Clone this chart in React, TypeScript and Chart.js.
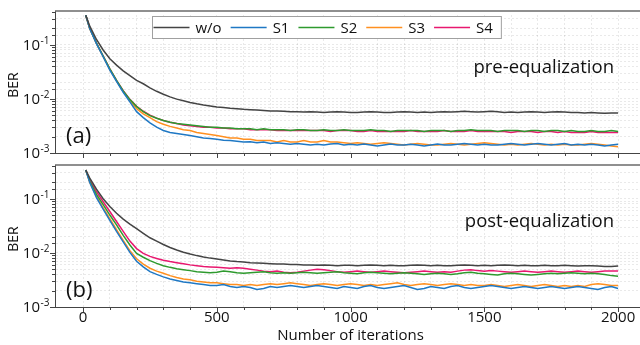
import React, { useEffect, useRef } from 'react';
import { Chart, registerables } from 'chart.js';

Chart.register(...registerables);

const FONT = '"Open Sans", "DejaVu Sans", sans-serif';

const SERIES_NAMES = ['w/o', 'S1', 'S2', 'S3', 'S4'];
const SERIES_COLORS = ['#444444', '#1f78c4', '#2e9a2e', '#ff9020', '#e8186f'];

const X_LABEL_TICKS = [0, 500, 1000, 1500, 2000];
const Y_LABEL_EXPONENTS = [-3, -2, -1];

const ITER = [
  10, 25, 50, 75, 100, 125, 150, 175, 200, 225,
  250, 275, 300, 325, 350, 375, 400, 425, 450, 475,
  500, 525, 550, 575, 600, 625, 650, 675, 700, 725,
  750, 775, 800, 825, 850, 875, 900, 925, 950, 975,
  1000, 1025, 1050, 1075, 1100, 1125, 1150, 1175, 1200, 1225,
  1250, 1275, 1300, 1325, 1350, 1375, 1400, 1425, 1450, 1475,
  1500, 1525, 1550, 1575, 1600, 1625, 1650, 1675, 1700, 1725,
  1750, 1775, 1800, 1825, 1850, 1875, 1900, 1925, 1950, 1975,
  2000,
];

// ---------- (a) pre-equalization ----------
const WO_PRE = [
  0.35, 0.22, 0.125, 0.08, 0.055, 0.042, 0.033, 0.027, 0.022, 0.019,
  0.016, 0.0138, 0.0122, 0.0109, 0.0099, 0.0092, 0.0086, 0.0081, 0.0077, 0.0074,
  0.0071, 0.0069, 0.0067, 0.0066, 0.0064, 0.0063, 0.0062, 0.0061, 0.006, 0.006,
  0.0059, 0.0058, 0.0058, 0.0057, 0.0058, 0.0057, 0.0056, 0.0057, 0.0058, 0.0057,
  0.0056, 0.0056, 0.0057, 0.0058, 0.0057, 0.0056, 0.0056, 0.0057, 0.0058, 0.0057,
  0.0056, 0.0057, 0.0056, 0.0057, 0.0058, 0.0057, 0.0058, 0.0059, 0.0058, 0.0057,
  0.0058, 0.0059, 0.0058, 0.0056, 0.0057, 0.0056, 0.0057, 0.0058, 0.0057, 0.0056,
  0.0057, 0.0058, 0.0057, 0.0056, 0.0056, 0.0055, 0.0056, 0.0055, 0.0054, 0.0055,
  0.0055,
];
const S1_PRE = [
  0.35, 0.2, 0.105, 0.06, 0.034, 0.021, 0.0132, 0.0088, 0.0058, 0.0045,
  0.0036, 0.003, 0.0026, 0.0024, 0.0023, 0.0022, 0.0021, 0.002, 0.0019, 0.00185,
  0.0018, 0.00172, 0.0017, 0.00165, 0.0016, 0.00162, 0.00155, 0.0016, 0.0015, 0.00155,
  0.0015, 0.00145, 0.0015, 0.00145, 0.0014, 0.00145, 0.0014, 0.00146, 0.0015, 0.0014,
  0.00145, 0.0014, 0.00146, 0.0014, 0.00135, 0.0014, 0.00146, 0.0014, 0.0014, 0.00145,
  0.0014, 0.00135, 0.0014, 0.00146, 0.0014, 0.0014, 0.00145, 0.0015, 0.00145, 0.0014,
  0.00145, 0.0014, 0.0014, 0.00145, 0.0015, 0.00145, 0.0014, 0.00145, 0.0015, 0.00145,
  0.0014, 0.00145, 0.0015, 0.0014, 0.00145, 0.0014, 0.00145, 0.0014, 0.00135, 0.0014,
  0.00145,
];
const S2_PRE = [
  0.35, 0.2, 0.107, 0.062, 0.036, 0.022, 0.014, 0.0097, 0.0072, 0.0058,
  0.0049, 0.0044, 0.004, 0.0037, 0.0035, 0.0034, 0.0033, 0.0032, 0.0031, 0.003,
  0.003, 0.0029, 0.0029, 0.0028, 0.0028, 0.0028, 0.0027, 0.0028, 0.0027, 0.0027,
  0.0027, 0.0026, 0.0027, 0.0027, 0.0026, 0.0026, 0.0027, 0.0026, 0.0026, 0.0027,
  0.0026, 0.0026, 0.0026, 0.0027, 0.0026, 0.0026, 0.0025, 0.0026, 0.0026, 0.0026,
  0.0026, 0.0025, 0.0026, 0.0026, 0.0026, 0.0025, 0.0026, 0.0026, 0.0027, 0.0026,
  0.0026, 0.0026, 0.0025, 0.0026, 0.0026, 0.0026, 0.0025, 0.0026, 0.0026, 0.0025,
  0.0026, 0.0026, 0.0025, 0.0026, 0.0025, 0.0025, 0.0026, 0.0025, 0.0025, 0.0026,
  0.0025,
];
const S3_PRE = [
  0.35, 0.2, 0.106, 0.061, 0.035, 0.0215, 0.0136, 0.0093, 0.0066, 0.0053,
  0.0045, 0.0038, 0.0034, 0.0031, 0.0029, 0.0027, 0.0026, 0.0024, 0.0023, 0.0022,
  0.0021, 0.002, 0.0019, 0.0019, 0.0018, 0.0018, 0.0017, 0.0017, 0.0017, 0.0016,
  0.0017, 0.0016, 0.0016, 0.0017, 0.0016, 0.0016, 0.0017, 0.0016, 0.0016, 0.00155,
  0.0015, 0.00155, 0.0015, 0.00145, 0.0015, 0.00155, 0.0015, 0.00145, 0.0014, 0.00145,
  0.0015, 0.00145, 0.0014, 0.0014, 0.00145, 0.0015, 0.00145, 0.0014, 0.00145, 0.0015,
  0.00155, 0.0015, 0.00145, 0.0014, 0.00145, 0.0014, 0.00145, 0.0015, 0.00145, 0.0014,
  0.00145, 0.0014, 0.00145, 0.0014, 0.0014, 0.00145, 0.0015, 0.00145, 0.0014, 0.00135,
  0.0013,
];
const S4_PRE = [
  0.35, 0.2, 0.107, 0.062, 0.036, 0.022, 0.0142, 0.0098, 0.0073, 0.0059,
  0.005, 0.0044, 0.004, 0.0037, 0.0035, 0.0033, 0.0032, 0.0031, 0.003, 0.003,
  0.0029, 0.0029, 0.0028, 0.0028, 0.0028, 0.0027, 0.0027, 0.0027, 0.0027, 0.0026,
  0.0026, 0.0026, 0.0026, 0.0026, 0.0026, 0.0026, 0.0026, 0.0025, 0.0026, 0.0026,
  0.0026, 0.0025, 0.0025, 0.0026, 0.0025, 0.0025, 0.0025, 0.0025, 0.0025, 0.0026,
  0.0025, 0.0025, 0.0025, 0.0025, 0.0026, 0.0025, 0.0025, 0.0025, 0.0026, 0.0025,
  0.0025, 0.0025, 0.0025, 0.0025, 0.0024, 0.0025, 0.0025, 0.0025, 0.0024, 0.0025,
  0.0025, 0.0024, 0.0025, 0.0024, 0.0024, 0.0024, 0.0025, 0.0024, 0.0024, 0.0024,
  0.0024,
];

// ---------- (b) post-equalization ----------
const WO_POST = [
  0.34, 0.24, 0.15, 0.1, 0.072, 0.054, 0.042, 0.034, 0.028, 0.023,
  0.019, 0.0165, 0.0143, 0.0126, 0.0113, 0.0103, 0.0095, 0.0089, 0.0084, 0.008,
  0.0077, 0.0074, 0.0071, 0.0069, 0.0068, 0.0066, 0.0065, 0.0064, 0.0063, 0.0062,
  0.0062, 0.0061, 0.0061, 0.006, 0.006, 0.0059, 0.006, 0.0059, 0.0058, 0.0059,
  0.0059, 0.0058, 0.0059, 0.006, 0.0059, 0.0058, 0.0059, 0.0058, 0.0058, 0.0059,
  0.006, 0.0059, 0.0058, 0.0059, 0.0058, 0.0058, 0.0059, 0.006, 0.0059, 0.0058,
  0.0059, 0.0058, 0.0059, 0.006, 0.0059, 0.0058, 0.0059, 0.0058, 0.0058, 0.0059,
  0.0058, 0.0058, 0.0059, 0.0058, 0.0057, 0.0058, 0.0058, 0.0057, 0.0056, 0.0056,
  0.0057,
];
const S1_POST = [
  0.34, 0.2, 0.105, 0.064, 0.04, 0.025, 0.016, 0.0102, 0.007, 0.0055,
  0.0045, 0.004, 0.0036, 0.0033, 0.0031, 0.0029, 0.0028, 0.0027, 0.0026, 0.0025,
  0.0025, 0.0026, 0.0024, 0.0023, 0.0024, 0.0023, 0.0021, 0.0022, 0.0024, 0.0023,
  0.0024, 0.0025, 0.0024, 0.0023, 0.0024, 0.0025, 0.0024, 0.0023, 0.0022, 0.0024,
  0.0023, 0.0022, 0.0024, 0.0025, 0.0023, 0.0022, 0.0023, 0.0024, 0.0025, 0.0023,
  0.0021, 0.0022, 0.0024, 0.0023, 0.0022, 0.0024, 0.0025, 0.0023, 0.0022, 0.0023,
  0.0024, 0.0025, 0.0024, 0.0023, 0.0022, 0.0023, 0.0024, 0.0023, 0.0022, 0.0023,
  0.0024, 0.0023, 0.0022, 0.0023, 0.0024, 0.0023, 0.0022, 0.0021, 0.0023, 0.0024,
  0.0022,
];
const S2_POST = [
  0.34, 0.21, 0.12, 0.078, 0.05, 0.033, 0.021, 0.014, 0.0098, 0.0083,
  0.0072, 0.0064, 0.0058, 0.0054, 0.0051, 0.0049, 0.0047, 0.0045, 0.0044, 0.0043,
  0.0044, 0.0046, 0.0045, 0.0043, 0.0042, 0.0043, 0.0044, 0.0045, 0.0043, 0.0042,
  0.0043, 0.0042, 0.0043, 0.0044, 0.0043, 0.0042, 0.0043, 0.0044, 0.0045, 0.0043,
  0.0042, 0.0041, 0.0043, 0.0044, 0.0043, 0.0042, 0.0041, 0.0042, 0.0043, 0.0042,
  0.0041, 0.004, 0.0041, 0.0042, 0.0041, 0.004, 0.0041, 0.0043, 0.0044, 0.0042,
  0.0041, 0.004, 0.0039, 0.0041, 0.0042, 0.0041, 0.004, 0.0039, 0.004, 0.0041,
  0.0042, 0.0041, 0.0042, 0.0043, 0.0042, 0.0041, 0.0042, 0.0041, 0.004, 0.0038,
  0.0037,
];
const S3_POST = [
  0.34, 0.2, 0.11, 0.068, 0.043, 0.027, 0.017, 0.011, 0.0078, 0.0062,
  0.0052, 0.0046, 0.0042, 0.0038, 0.0035, 0.0033, 0.0032, 0.003, 0.0029, 0.0028,
  0.0028, 0.0027, 0.0026, 0.0026, 0.0025, 0.0026, 0.0025, 0.0026, 0.0027, 0.0026,
  0.0027, 0.0028, 0.0027, 0.0026, 0.0025, 0.0026, 0.0027, 0.0026, 0.0025, 0.0026,
  0.0027, 0.0026, 0.0025, 0.0026, 0.0025, 0.0026, 0.0027, 0.0028, 0.0026, 0.0025,
  0.0026, 0.0027, 0.0026, 0.0025, 0.0026, 0.0027, 0.0026, 0.0025, 0.0026, 0.0025,
  0.0025, 0.0026, 0.0025, 0.0024, 0.0025, 0.0026, 0.0025, 0.0024, 0.0025, 0.0026,
  0.0025, 0.0024, 0.0025, 0.0024, 0.0025, 0.0024, 0.0026, 0.0027, 0.0026, 0.0025,
  0.0025,
];
const S4_POST = [
  0.34, 0.22, 0.135, 0.088, 0.058, 0.038, 0.025, 0.0165, 0.012, 0.0098,
  0.0086, 0.0079, 0.0073, 0.0069, 0.0066, 0.0063, 0.006, 0.0058, 0.0056, 0.0055,
  0.0054, 0.0053, 0.0052, 0.0053, 0.0052, 0.005, 0.0048, 0.0046, 0.0045, 0.0046,
  0.0044, 0.0043, 0.0044, 0.0046, 0.0048, 0.005, 0.0049, 0.0047, 0.0045, 0.0044,
  0.0045, 0.0046, 0.0045, 0.0044, 0.0045, 0.0046, 0.0045, 0.0044, 0.0043, 0.0044,
  0.0045, 0.0046, 0.0045, 0.0044, 0.0045, 0.0044, 0.0046, 0.0048, 0.0049, 0.0047,
  0.0046, 0.0047, 0.0046, 0.0045, 0.0044, 0.0045, 0.0046, 0.0045, 0.0044, 0.0045,
  0.0046, 0.0045, 0.0044, 0.0045, 0.0046, 0.0045, 0.0044, 0.0045, 0.0046, 0.0046,
  0.0046,
];

const PRE_SERIES = [WO_PRE, S1_PRE, S2_PRE, S3_PRE, S4_PRE];
const POST_SERIES = [WO_POST, S1_POST, S2_POST, S3_POST, S4_POST];

const X_MIN = -105;
const X_MAX = 2082;
const Y_MIN = 0.001;
const Y_MAX = 0.42;

const decorPlugin = {
  id: 'panelDecor',
  afterDraw(chart: any, _args: any, opts: any) {
    const ctx: CanvasRenderingContext2D = chart.ctx;
    const { left, top, bottom } = chart.chartArea;
    const xs = chart.scales.x;
    const ys = chart.scales.y;
    ctx.save();

    // top frame line
    ctx.fillStyle = '#fff';
    ctx.fillRect(left + 1, top - 1, chart.width - left, 4);
    ctx.strokeStyle = '#6a6a6a';
    ctx.lineWidth = 1.5;
    ctx.beginPath();
    ctx.moveTo(left, top);
    ctx.lineTo(chart.width, top);
    ctx.stroke();

    // x tick marks
    ctx.strokeStyle = '#444';
    ctx.lineWidth = 1;
    ctx.beginPath();
    xs.ticks.forEach((t: any) => {
      const px = Math.round(xs.getPixelForValue(t.value)) + 0.5;
      const len = t.value % 500 === 0 ? 5 : 3;
      ctx.moveTo(px, bottom);
      ctx.lineTo(px, bottom + len);
    });
    // y tick marks
    ys.ticks.forEach((t: any) => {
      if (t.value > Y_MAX * 0.999) return;
      const py = Math.round(ys.getPixelForValue(t.value)) + 0.5;
      const mant = t.value / Math.pow(10, Math.floor(Math.log10(t.value) + 1e-9));
      const len = Math.abs(mant - 1) < 1e-6 ? 5 : 3;
      ctx.moveTo(left - len, py);
      ctx.lineTo(left, py);
    });
    ctx.stroke();

    // y labels 10^n
    ctx.fillStyle = '#111';
    Y_LABEL_EXPONENTS.forEach((e) => {
      const py = ys.getPixelForValue(Math.pow(10, e));
      ctx.font = `15px ${FONT}`;
      ctx.textAlign = 'right';
      ctx.textBaseline = 'middle';
      ctx.fillText('10', 40, py + 1);
      ctx.font = `10px ${FONT}`;
      ctx.textAlign = 'left';
      ctx.fillText(`-${Math.abs(e)}`, 40.5, py - 4);
    });

    // y title
    ctx.save();
    ctx.translate(14, top + 74);
    ctx.rotate(-Math.PI / 2);
    ctx.font = `14px ${FONT}`;
    ctx.textAlign = 'center';
    ctx.textBaseline = 'middle';
    ctx.fillText('BER', 0, 0);
    ctx.restore();

    // x labels + title
    if (opts.showX) {
      ctx.font = `15px ${FONT}`;
      ctx.textAlign = 'center';
      ctx.textBaseline = 'middle';
      X_LABEL_TICKS.forEach((v) => {
        ctx.fillText(String(v), xs.getPixelForValue(v), bottom + 11);
      });
      ctx.fillText('Number of iterations', xs.getPixelForValue(1000), bottom + 29);
    }

    // panel label
    ctx.font = `22px ${FONT}`;
    ctx.textAlign = 'left';
    ctx.textBaseline = 'middle';
    ctx.fillText(opts.panel, 66, top + 126);

    // annotation
    ctx.font = `18.5px ${FONT}`;
    ctx.textAlign = 'right';
    ctx.fillText(opts.note, 614, top + 57);

    // legend
    if (opts.legend) {
      ctx.font = `15px ${FONT}`;
      const boxX = 152;
      const boxY = 16;
      const boxH = 22;
      let x = boxX + 1.5;
      const items: { x: number; color: string; label: string }[] = [];
      chart.data.datasets.forEach((ds: any) => {
        items.push({ x, color: ds.borderColor, label: ds.label });
        x += 42 + ctx.measureText(ds.label).width + 9;
      });
      const boxW = x - 9 + 8 - boxX;
      ctx.fillStyle = '#fff';
      ctx.fillRect(boxX, boxY, boxW, boxH);
      ctx.strokeStyle = '#a0a0a0';
      ctx.lineWidth = 1;
      ctx.strokeRect(boxX + 0.5, boxY + 0.5, boxW, boxH);
      const cy = boxY + boxH / 2 + 0.5;
      items.forEach((it) => {
        ctx.strokeStyle = it.color;
        ctx.lineWidth = 1.5;
        ctx.beginPath();
        ctx.moveTo(it.x, cy);
        ctx.lineTo(it.x + 36, cy);
        ctx.stroke();
        ctx.fillStyle = '#111';
        ctx.textAlign = 'left';
        ctx.textBaseline = 'middle';
        ctx.fillText(it.label, it.x + 42, cy + 1);
      });
    }
    ctx.restore();
  },
};

function makeChart(
  canvas: HTMLCanvasElement,
  series: number[][],
  panelOpts: { panel: string; note: string; legend: boolean; showX: boolean },
  padding: { top: number; bottom: number },
  xHeight: number
) {
  return new Chart(canvas, {
    type: 'line',
    data: {
      datasets: series.map((vals, i) => ({
        label: SERIES_NAMES[i],
        data: vals.map((v, k) => ({ x: ITER[k], y: v })),
        borderColor: SERIES_COLORS[i],
        backgroundColor: SERIES_COLORS[i],
        borderWidth: 1.5,
        pointRadius: 0,
        tension: 0,
        fill: false,
      })),
    },
    options: {
      animation: false,
      responsive: false,
      devicePixelRatio: 1,
      layout: { padding: { left: 0, right: 0, top: padding.top, bottom: padding.bottom } },
      plugins: {
        legend: { display: false },
        tooltip: { enabled: false },
        panelDecor: panelOpts,
      } as any,
      scales: {
        x: {
          type: 'linear',
          min: X_MIN,
          max: X_MAX,
          afterBuildTicks: (scale: any) => {
            const t = [];
            for (let v = 0; v <= X_LABEL_TICKS[X_LABEL_TICKS.length - 1]; v += 100) t.push({ value: v });
            scale.ticks = t;
          },
          afterFit: (scale: any) => {
            scale.height = xHeight;
          },
          ticks: { display: false },
          grid: { color: 'rgba(0,0,0,0.085)', lineWidth: 1, drawTicks: false },
          border: { display: true, color: '#444', width: 1, dash: [2, 2] },
        },
        y: {
          type: 'logarithmic',
          min: Y_MIN,
          max: Y_MAX,
          afterFit: (scale: any) => {
            scale.width = 55;
          },
          ticks: { display: false },
          grid: { color: 'rgba(0,0,0,0.085)', lineWidth: 1, drawTicks: false },
          border: { display: true, color: '#444', width: 1, dash: [2, 2] },
        },
      },
    } as any,
    plugins: [decorPlugin],
  });
}

export default function App() {
  const topRef = useRef<HTMLCanvasElement>(null);
  const botRef = useRef<HTMLCanvasElement>(null);

  useEffect(() => {
    const c1 = makeChart(
      topRef.current!,
      PRE_SERIES,
      { panel: '(a)', note: 'pre-equalization', legend: true, showX: false },
      { top: 11, bottom: 7 },
      0
    );
    const c2 = makeChart(
      botRef.current!,
      POST_SERIES,
      { panel: '(b)', note: 'post-equalization', legend: false, showX: true },
      { top: 5, bottom: 0 },
      38
    );
    return () => {
      c1.destroy();
      c2.destroy();
    };
  }, []);

  return (
    <div style={{ position: 'absolute', left: 0, top: 0, width: 640, height: 345, background: '#fff' }}>
      <canvas ref={topRef} width={640} height={160} style={{ position: 'absolute', left: 0, top: 0 }} />
      <canvas ref={botRef} width={640} height={185} style={{ position: 'absolute', left: 0, top: 160 }} />
    </div>
  );
}
